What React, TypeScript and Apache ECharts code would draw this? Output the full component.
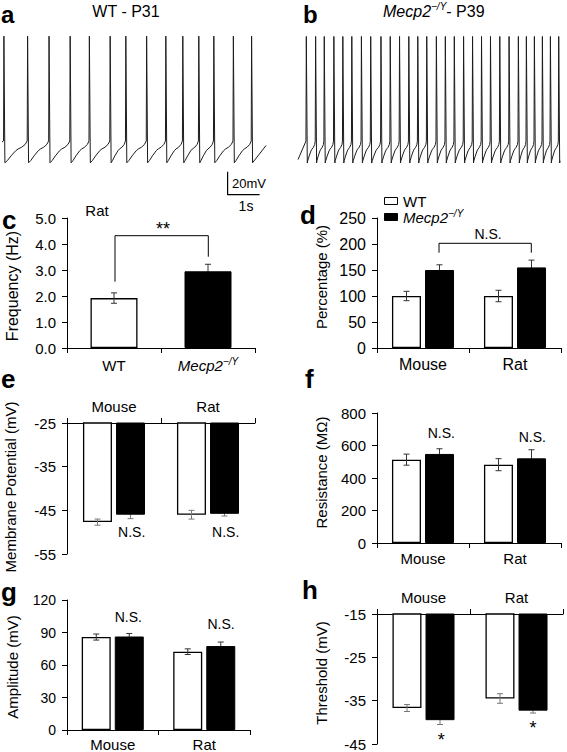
import React, { useEffect, useRef } from 'react';
import * as echarts from 'echarts';

const FONT = '"Liberation Sans", Arial, Helvetica, sans-serif';

// ---------- a / b : firing traces (spike times in s) ----------
const spikeTimesA = [0.06, 0.8, 1.47, 2.13, 2.73, 3.38, 3.87, 4.52, 5.12, 5.65, 6.15, 6.62, 7.23, 7.8];
const spikeTimesB = [0.26, 0.55, 0.82, 1.12, 1.4, 1.68, 1.98, 2.27, 2.59, 2.88, 3.17, 3.46, 3.74, 4.02, 4.32, 4.6, 4.88, 5.17, 5.45, 5.73, 6.01, 6.3, 6.59, 6.88, 7.13, 7.38, 7.63, 7.88, 8.14];
const traceStartA = [0, -52];
const traceEndA = [8.25, -55];
const traceStartB = [0, -67];
const traceEndB = [8.18, -68];
// action potential shape: [s from spike peak, mV]
const apTemplate = [[-0.012, -51], [0, 40], [0.03, -70]];
// inter-spike trajectory: [fraction of interval, mV]
const isiTemplate = [[0.15, -68], [0.3, -64], [0.5, -59.5], [0.6, -58], [0.75, -56.5], [0.9, -54]];
// scale bar: 20 mV / 1 s
const scaleBar = [[7.05, -77.7], [7.05, -97.7], [8.05, -97.7]];

// ---------- c : frequency (Hz), rat ----------
const cCats = ['WT', 'Mecp2'];
const cFreq = [1.92, 2.95];
const cFreqErr = [0.2, 0.27];

// ---------- d-h : Mouse / Rat, WT vs Mecp2-/Y ----------
const groups = ['Mouse', 'Rat'];
const dWT = [100, 100];
const dWTErr = [9, 11];
const dKO = [150, 155];
const dKOErr = [10, 14];

const eWT = [-47.7, -46.0];
const eWTErr = [0.7, 1.0];
const eKO = [-46.0, -45.8];
const eKOErr = [0.9, 0.5];

const fWT = [513, 482];
const fWTErr = [34, 37];
const fKO = [548, 521];
const fKOErr = [32, 53];

const gWT = [85.8, 72.3];
const gWTErr = [2.8, 2.6];
const gKO = [86.3, 77.5];
const gKOErr = [2.8, 3.7];

const hWT = [-36.7, -34.5];
const hWTErr = [0.8, 1.1];
const hKO = [-39.5, -37.3];
const hKOErr = [1.0, 0.55];

function buildTrace(spikes: number[], start: number[], end: number[]) {
  const pts: number[][] = [start];
  spikes.forEach((t, i) => {
    apTemplate.forEach(([dt, v]) => pts.push([t + dt, v]));
    if (i < spikes.length - 1) {
      const isi = spikes[i + 1] - t;
      isiTemplate.forEach(([f, v]) => pts.push([t + f * isi, v]));
    }
  });
  pts.push(end);
  return pts;
}

const BW = 29;
const GAP = '14%';
const OFF = 16.5;

// data rows: [category index, value, error]
function errSeries(k: number, rows: number[][], offset: number, color: string, z: number) {
  return {
    type: 'custom',
    xAxisIndex: k,
    yAxisIndex: k,
    z,
    silent: true,
    clip: false,
    data: rows,
    renderItem: (params: any, api: any) => {
      const c = api.value(0);
      const v = api.value(1);
      const e = api.value(2);
      const hi = api.coord([c, v + e]);
      const lo = api.coord([c, v - e]);
      const x = hi[0] + offset;
      const st = { stroke: color, lineWidth: 1 };
      return {
        type: 'group',
        children: [
          { type: 'line', shape: { x1: x, y1: hi[1], x2: x, y2: lo[1] }, style: st },
          { type: 'line', shape: { x1: x - 3, y1: hi[1], x2: x + 3, y2: hi[1] }, style: st },
          { type: 'line', shape: { x1: x - 3, y1: lo[1], x2: x + 3, y2: lo[1] }, style: st },
        ],
      };
    },
  };
}

const rows = (vals: number[], errs: number[]) => vals.map((v, i) => [i, v, errs[i]]);

function barPair(k: number, wt: number[], ko: number[]) {
  return [
    {
      type: 'bar', name: 'WT', xAxisIndex: k, yAxisIndex: k, data: wt, barWidth: BW, barGap: GAP, z: 2, silent: true, clip: true,
      itemStyle: { color: '#fff', borderColor: '#000', borderWidth: 1.3 },
    },
    {
      type: 'bar', name: 'Mecp2', xAxisIndex: k, yAxisIndex: k, data: ko, barWidth: BW, barGap: GAP, z: 2, silent: true, clip: true,
      itemStyle: { color: '#000', borderColor: '#000', borderWidth: 1 },
    },
  ];
}

const supRich = (fs: number) => ({
  n: { fontFamily: FONT, fontSize: fs, color: '#000', lineHeight: fs + 3 },
  i: { fontFamily: FONT, fontSize: fs, fontStyle: 'italic', color: '#000', lineHeight: fs + 3 },
  s: { fontFamily: FONT, fontSize: Math.round(fs * 0.65), fontStyle: 'italic', color: '#000', verticalAlign: 'top', lineHeight: Math.round(fs * 0.65) },
});

function catAxis(k: number, data: string[], opts: any = {}) {
  return {
    type: 'category',
    gridIndex: k,
    data,
    position: opts.position || 'bottom',
    axisLine: { show: true, onZero: false, lineStyle: { color: '#000', width: 1 } },
    axisTick: { show: true, length: 5, lineStyle: { color: '#000' } },
    axisLabel: {
      show: true,
      interval: 0,
      hideOverlap: false,
      fontFamily: FONT,
      fontSize: opts.fontSize || 15,
      color: '#000',
      margin: opts.margin ?? 8,
      formatter: opts.formatter,
      rich: opts.rich,
    },
    splitLine: { show: false },
  };
}

function valAxis(k: number, min: number, max: number, interval: number, opts: any = {}) {
  return {
    type: 'value',
    gridIndex: k,
    min,
    max,
    interval,
    axisLine: { show: true, onZero: false, lineStyle: { color: '#000', width: 1 } },
    axisTick: { show: true, length: 5, lineStyle: { color: '#000' } },
    axisLabel: {
      fontFamily: FONT,
      fontSize: opts.fontSize || 15,
      color: '#000',
      margin: opts.margin ?? 11,
      formatter: opts.formatter,
    },
    splitLine: { show: false },
  };
}

function txt(text: string, x: number, y: number, o: any = {}) {
  const align = o.align || 'center';
  return {
    type: 'text',
    x,
    y,
    rotation: o.rotation || 0,
    silent: true,
    z: 100,
    style: {
      text,
      fontFamily: FONT,
      fontSize: o.fontSize || 15,
      fontWeight: o.fontWeight || 'normal',
      fontStyle: o.fontStyle || 'normal',
      fill: '#000',
      align,
      textAlign: align,
      verticalAlign: 'middle',
      textVerticalAlign: 'middle',
      rich: o.rich,
    },
  };
}

function poly(points: number[][]) {
  return { type: 'polyline', silent: true, z: 100, shape: { points }, style: { stroke: '#000', lineWidth: 1, fill: null } };
}

export default function App() {
  const ref = useRef<HTMLDivElement>(null);
  useEffect(() => {
    if (!ref.current) return;
    const chart = echarts.init(ref.current, null, { renderer: 'svg' });
    const traceStyle = { color: '#1c1c1c', width: 1 };
    const option: any = {
      animation: false,
      backgroundColor: '#fff',
      grid: [
        { left: 2, top: 35, width: 264, height: 160 },
        { left: 298, top: 33, width: 262, height: 130 },
        { left: 67, top: 218, width: 188, height: 130 },
        { left: 377, top: 218, width: 184, height: 130 },
        { left: 67, top: 423, width: 188, height: 131 },
        { left: 377, top: 413, width: 184, height: 130 },
        { left: 67, top: 600, width: 183, height: 131 },
        { left: 377, top: 614, width: 186, height: 130 },
      ],
      xAxis: [
        { type: 'value', gridIndex: 0, min: 0, max: traceEndA[0], show: false },
        { type: 'value', gridIndex: 1, min: 0, max: traceEndB[0], show: false },
        catAxis(2, cCats, {
          margin: 8,
          formatter: (v: string) => (v === 'WT' ? '{n|WT}' : '{i|Mecp2}{s|−/Y}'),
          rich: supRich(15),
        }),
        catAxis(3, groups, { margin: 8, fontSize: 16 }),
        catAxis(4, groups, { position: 'top', margin: 9 }),
        catAxis(5, groups, { margin: 8 }),
        catAxis(6, groups, { margin: 7 }),
        catAxis(7, groups, { position: 'top', margin: 9 }),
      ],
      yAxis: [
        { type: 'value', gridIndex: 0, min: -98, max: 41, show: false },
        { type: 'value', gridIndex: 1, min: -70, max: 43, show: false },
        valAxis(2, 0, 5, 1, { formatter: (v: number) => v.toFixed(1) }),
        valAxis(3, 0, 250, 50, { fontSize: 16 }),
        valAxis(4, -55, -25, 10),
        valAxis(5, 0, 800, 200, { fontSize: 15 }),
        valAxis(6, 0, 120, 30, { fontSize: 14 }),
        valAxis(7, -45, -15, 10),
      ],
      series: [
        { type: 'line', xAxisIndex: 0, yAxisIndex: 0, data: buildTrace(spikeTimesA, traceStartA, traceEndA), symbol: 'none', lineStyle: traceStyle, silent: true, clip: false },
        { type: 'line', xAxisIndex: 1, yAxisIndex: 1, data: buildTrace(spikeTimesB, traceStartB, traceEndB), symbol: 'none', lineStyle: traceStyle, silent: true, clip: false },
        { type: 'line', xAxisIndex: 0, yAxisIndex: 0, data: scaleBar, symbol: 'none', lineStyle: { color: '#000', width: 1.2 }, silent: true, clip: false },
        {
          type: 'bar', xAxisIndex: 2, yAxisIndex: 2, barWidth: 47, z: 2, silent: true,
          data: cFreq.map((v, i) => ({
            value: v,
            itemStyle: i === 0 ? { color: '#fff', borderColor: '#000', borderWidth: 1.3 } : { color: '#000', borderColor: '#000', borderWidth: 1 },
          })),
        },
        errSeries(2, [[0, cFreq[0], cFreqErr[0]]], 0, '#333', 3),
        errSeries(2, [[1, cFreq[1], cFreqErr[1]]], 0, '#333', 1),
        ...barPair(3, dWT, dKO),
        errSeries(3, rows(dWT, dWTErr), -OFF, '#333', 3),
        errSeries(3, rows(dKO, dKOErr), OFF, '#333', 1),
        ...barPair(4, eWT, eKO),
        errSeries(4, rows(eWT, eWTErr), -OFF, '#777', 3),
        errSeries(4, rows(eKO, eKOErr), OFF, '#777', 1),
        ...barPair(5, fWT, fKO),
        errSeries(5, rows(fWT, fWTErr), -OFF, '#333', 3),
        errSeries(5, rows(fKO, fKOErr), OFF, '#333', 1),
        ...barPair(6, gWT, gKO),
        errSeries(6, rows(gWT, gWTErr), -OFF, '#333', 3),
        errSeries(6, rows(gKO, gKOErr), OFF, '#333', 1),
        ...barPair(7, hWT, hKO),
        errSeries(7, rows(hWT, hWTErr), -OFF, '#777', 3),
        errSeries(7, rows(hKO, hKOErr), OFF, '#777', 1),
      ],
      graphic: [
        // panel letters
        txt('a', 1, 14, { fontSize: 24, fontWeight: 'bold', align: 'left' }),
        txt('b', 303, 14.5, { fontSize: 24, fontWeight: 'bold', align: 'left' }),
        txt('c', 2, 220, { fontSize: 26, fontWeight: 'bold', align: 'left' }),
        txt('d', 300, 215, { fontSize: 26, fontWeight: 'bold', align: 'left' }),
        txt('e', 1, 379, { fontSize: 26, fontWeight: 'bold', align: 'left' }),
        txt('f', 305, 379, { fontSize: 26, fontWeight: 'bold', align: 'left' }),
        txt('g', 1, 592, { fontSize: 26, fontWeight: 'bold', align: 'left' }),
        txt('h', 302, 590, { fontSize: 26, fontWeight: 'bold', align: 'left' }),
        // trace titles
        txt('WT - P31', 126, 11, { fontSize: 16 }),
        txt('{i|Mecp2}{s|−/Y}{n|- P39}', 383, 11, { fontSize: 16, align: 'left', rich: supRich(16) }),
        // scale bar labels
        txt('20mV', 232, 183, { fontSize: 13, align: 'left' }),
        txt('1s', 246, 206, { fontSize: 14 }),
        // c
        txt('Rat', 97, 210, { fontSize: 15 }),
        poly([[115, 281.7], [115, 235.7], [208.3, 235.7], [208.3, 256.7]]),
        txt('**', 163, 229, { fontSize: 18 }),
        txt('Frequency (Hz)', 12, 286, { fontSize: 16, rotation: Math.PI / 2 }),
        // d
        { type: 'rect', silent: true, z: 100, shape: { x: 384.5, y: 197.5, width: 13, height: 7 }, style: { fill: '#fff', stroke: '#000', lineWidth: 1 } },
        { type: 'rect', silent: true, z: 100, shape: { x: 384.5, y: 213.5, width: 13, height: 7 }, style: { fill: '#000', stroke: '#000', lineWidth: 1 } },
        txt('WT', 403, 201, { fontSize: 15, align: 'left' }),
        txt('{i|Mecp2}{s|−/Y}', 403, 217, { fontSize: 15, align: 'left', rich: supRich(15) }),
        poly([[439, 252.7], [439, 243.3], [531.3, 243.3], [531.3, 252.7]]),
        txt('N.S.', 488, 234, { fontSize: 14 }),
        txt('Percentage (%)', 321, 277, { fontSize: 15, rotation: Math.PI / 2 }),
        // e
        txt('N.S.', 131.7, 531.7, { fontSize: 14 }),
        txt('N.S.', 225.7, 531.7, { fontSize: 14 }),
        txt('Membrane Potential (mV)', 10, 487, { fontSize: 15, rotation: Math.PI / 2 }),
        // f
        txt('N.S.', 441.3, 432.7, { fontSize: 14 }),
        txt('N.S.', 532.3, 437.3, { fontSize: 14 }),
        txt('Resistance (MΩ)', 321, 472.5, { fontSize: 15, rotation: Math.PI / 2 }),
        // g
        txt('N.S.', 128.3, 616.7, { fontSize: 14 }),
        txt('N.S.', 221, 624.3, { fontSize: 14 }),
        txt('Amplitude (mV)', 12, 667, { fontSize: 15, rotation: Math.PI / 2 }),
        // h
        txt('*', 441.3, 740, { fontSize: 18 }),
        txt('*', 533, 728, { fontSize: 18 }),
        txt('Threshold (mV)', 321.7, 673, { fontSize: 15, rotation: Math.PI / 2 }),
      ],
    };
    chart.setOption(option);
    return () => chart.dispose();
  }, []);
  return (
    <div
      ref={ref}
      style={{ position: 'fixed', left: 0, top: 0, width: 567, height: 752, background: '#fff' }}
    />
  );
}
